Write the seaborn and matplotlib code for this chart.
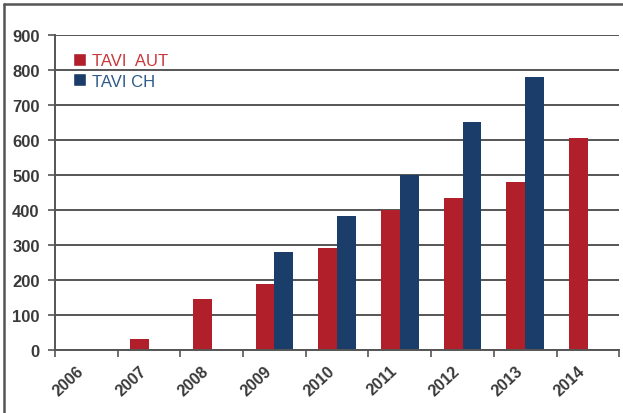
import matplotlib
matplotlib.use("Agg")
import matplotlib.pyplot as plt
import matplotlib.lines as mlines
import numpy as np
import pandas as pd
import seaborn as sns

years = ["2006", "2007", "2008", "2009", "2010", "2011", "2012", "2013", "2014"]
tavi_aut = [0, 31, 147, 190, 293, 399, 434, 481, 605]
tavi_ch = [np.nan, np.nan, np.nan, 279, 382, 501, 652, 781, np.nan]
series = ["TAVI  AUT", "TAVI CH"]
y_ticks = [0, 100, 200, 300, 400, 500, 600, 700, 800, 900]

RED = "#B11F2B"
BLUE = "#1A3D69"
RED_TXT = "#C8383B"
BLUE_TXT = "#2F5A8A"
GRID = "#555555"
LABEL = "#3A3A3A"


def main():
    df = pd.DataFrame({
        "year": years * 2,
        "value": tavi_aut + tavi_ch,
        "series": [series[0]] * len(years) + [series[1]] * len(years),
    })

    sns.set_style("white")
    plt.rcParams["font.family"] = ["Liberation Sans", "DejaVu Sans"]

    fig = plt.figure(figsize=(6.23, 4.14), dpi=100)
    ax = fig.add_axes([0.0883, 0.152, 0.9057, 0.761])

    sns.barplot(
        data=df, x="year", y="value", hue="series",
        order=years, hue_order=series,
        palette=[RED, BLUE], width=0.6, gap=0,
        linewidth=0, saturation=1, ax=ax, legend=False,
    )

    ax.set_ylim(0, 900)
    ax.set_xlim(-0.5, len(years) - 0.5)
    ax.set_yticks(y_ticks)
    ax.set_yticklabels([str(t) for t in y_ticks], fontsize=12,
                       fontweight="bold", color=LABEL)
    ax.yaxis.grid(True, color=GRID, linewidth=1.4)
    ax.set_axisbelow(True)
    ax.set_xlabel("")
    ax.set_ylabel("")

    # labels at category centres, tick marks at category boundaries
    ax.set_xticks(range(len(years)))
    ax.set_xticklabels(years, rotation=43, ha="right", fontsize=11.5,
                       fontweight="bold", color=LABEL)
    ax.set_xticks(np.arange(-0.5, len(years)), minor=True)
    ax.tick_params(axis="x", which="major", length=0, pad=9)
    ax.tick_params(axis="x", which="minor", length=5, width=1.2, color=GRID,
                   direction="out", bottom=True)
    ax.tick_params(axis="y", length=5, width=1.2, color=GRID, left=True, pad=6)

    for side in ["top", "right"]:
        ax.spines[side].set_visible(False)
    for side in ["left", "bottom"]:
        ax.spines[side].set_color(GRID)
        ax.spines[side].set_linewidth(1.4)

    # legend
    handles = [
        plt.Rectangle((0, 0), 1, 1, facecolor=RED),
        plt.Rectangle((0, 0), 1, 1, facecolor=BLUE),
    ]
    leg = ax.legend(handles, series, loc="upper left",
                    bbox_to_anchor=(0.005, 0.99), frameon=False,
                    handlelength=0.8, handleheight=0.8, handletextpad=0.35,
                    labelspacing=0.3, fontsize=12)
    for txt, col in zip(leg.get_texts(), [RED_TXT, BLUE_TXT]):
        txt.set_color(col)

    # outer frame (top and left edges)
    fig.add_artist(mlines.Line2D([4 / 623, 1], [1 - 5 / 414, 1 - 5 / 414],
                                 color="#555555", linewidth=1.8,
                                 transform=fig.transFigure))
    fig.add_artist(mlines.Line2D([4 / 623, 4 / 623], [0, 1 - 5 / 414],
                                 color="#555555", linewidth=1.8,
                                 transform=fig.transFigure))

    fig.savefig("out.png", dpi=100)


if __name__ == "__main__":
    main()
